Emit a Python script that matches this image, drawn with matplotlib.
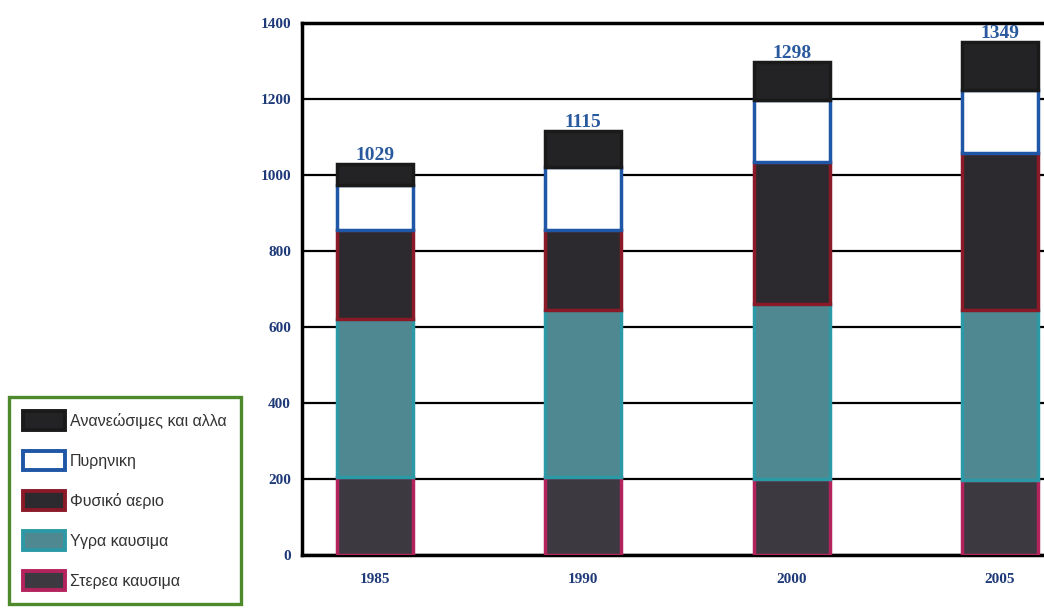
import matplotlib
matplotlib.use("Agg")
import matplotlib.pyplot as plt
from matplotlib.patches import Patch
import numpy as np

# energy consumption per source, stacked bottom to top
years = ["1985", "1990", "2000", "2005"]
totals = [1029, 1115, 1298, 1349]
solid = [205, 205, 200, 197]
liquid = [415, 440, 460, 448]
gas = [235, 210, 374, 413]
nuclear = [120, 166, 163, 166]
renewables = [54, 94, 101, 125]

labels = ["Στερεα καυσιμα", "Υγρα καυσιμα", "Φυσικό αεριο", "Πυρηνικη",
          "Ανανεώσιμες και αλλα"]
faces = ["#3c3a40", "#4f8890", "#2c2a2e", "#ffffff", "#232224"]
edges = ["#b3245c", "#2b9aa6", "#8a1a28", "#1f56a6", "#1a1a1a"]
series = [solid, liquid, gas, nuclear, renewables]

fig = plt.figure(figsize=(10.44, 6.10), dpi=100)
ax = fig.add_axes([302 / 1044, 55 / 610, 771 / 1044, 532 / 610])

x = np.arange(len(years))
bottom = np.zeros(len(years))
for vals, fc, ec in zip(series, faces, edges):
    ax.bar(x, vals, width=0.365, bottom=bottom, color=fc, edgecolor=ec,
           linewidth=2.5, zorder=3)
    bottom += np.array(vals)

# totals above each stack
for xi, t in zip(x, totals):
    ax.annotate(str(t), (xi, t), xytext=(0, 3), textcoords="offset points",
                ha="center", va="baseline", fontsize=14, fontweight="bold",
                family="Liberation Serif", color="#2a5a9e", zorder=5)

ax.set_xlim(-0.35, 3.35)
ax.set_ylim(0, 1400)
ax.set_yticks(range(0, 1401, 200))
ax.set_xticks(x)
ax.set_xticklabels(years)
ax.yaxis.grid(True, color="black", linewidth=1.6)
ax.set_axisbelow(True)
ax.tick_params(length=0)
ax.tick_params(axis="y", pad=8)
ax.tick_params(axis="x", pad=13)
for lab in ax.get_xticklabels() + ax.get_yticklabels():
    lab.set_family("Liberation Serif")
    lab.set_fontweight("bold")
    lab.set_fontsize(11)
    lab.set_color("#1f3a78")

for side in ["top", "left", "bottom"]:
    ax.spines[side].set_linewidth(2.5)
    ax.spines[side].set_color("black")
ax.spines["right"].set_visible(False)

handles = [Patch(facecolor=fc, edgecolor=ec, linewidth=2.8)
           for fc, ec in zip(faces, edges)][::-1]
leg = fig.legend(handles, labels[::-1], loc="upper left",
                 bbox_to_anchor=(9 / 1044, 1 - 397 / 610),
                 prop={"family": "Liberation Sans", "size": 11.5},
                 handlelength=2.6, handleheight=1.4, labelspacing=1.35,
                 handletextpad=0.3, borderpad=0.9, borderaxespad=0,
                 fancybox=False, framealpha=1)
leg.get_frame().set_edgecolor("#4e8a2c")
leg.get_frame().set_linewidth(2.4)
for txt in leg.get_texts():
    txt.set_color("#333333")

fig.savefig("out.png", dpi=100)
